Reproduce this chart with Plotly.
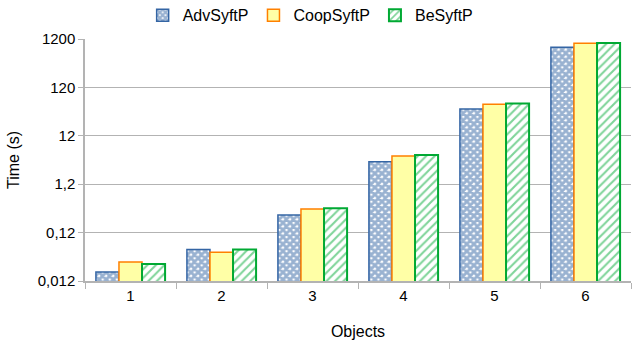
import plotly.graph_objects as go

categories = ["1", "2", "3", "4", "5", "6"]
adv = [0.0184, 0.054, 0.277, 3.5, 43, 807]
coop = [0.0297, 0.047, 0.369, 4.6, 54, 979]
be = [0.027, 0.054, 0.38, 4.8, 56, 990]
tick_vals = [0.012, 0.12, 1.2, 12, 120, 1200]
tick_text = ["0,012", "0,12", "1,2", "12", "120", "1200"]

fig = go.Figure()
fig.add_trace(go.Bar(
    name="AdvSyftP", x=categories, y=adv,
    marker=dict(color="white", line=dict(color="#3465a4", width=1.5),
                pattern=dict(shape="x", fgcolor="#3465a4", bgcolor="white", size=5, solidity=0.8))))
fig.add_trace(go.Bar(
    name="CoopSyftP", x=categories, y=coop,
    marker=dict(color="#ffffa6", line=dict(color="#ff8000", width=1.5))))
fig.add_trace(go.Bar(
    name="BeSyftP", x=categories, y=be,
    marker=dict(color="white", line=dict(color="#00a933", width=2),
                pattern=dict(shape="/", fgcolor="#00a933", bgcolor="white", size=6, solidity=0.35))))

fig.update_layout(
    width=634, height=340,
    margin=dict(l=85, r=3, t=39, b=59, autoexpand=False),
    paper_bgcolor="white", plot_bgcolor="white",
    font=dict(family="Liberation Sans, Arial, sans-serif", size=15, color="#000"),
    barmode="group", bargap=0.24, bargroupgap=0,
    legend=dict(orientation="h", x=0.49, xanchor="center", xref="container",
                y=0.955, yanchor="middle", yref="container",
                font=dict(size=16), itemwidth=30, tracegroupgap=0),
    showlegend=True,
)
fig.update_xaxes(
    automargin=True,
    title=dict(text="Objects", font=dict(size=16), standoff=24),
    showline=True, linecolor="#b3b3b3", linewidth=1.5,
    ticks="outside", tickson="boundaries", ticklen=6, tickcolor="#b3b3b3",
    showgrid=False,
)
fig.update_yaxes(
    automargin=True,
    type="log", range=[-1.9208, 3.0792],
    tickvals=tick_vals, ticktext=tick_text,
    title=dict(text="Time (s)", font=dict(size=16), standoff=14),
    showline=True, linecolor="#b3b3b3", linewidth=1.5,
    ticks="outside", ticklen=5, tickcolor="#b3b3b3",
    showgrid=True, gridcolor="#b3b3b3", gridwidth=1,
    zeroline=False,
)

fig.write_html("out.html", config={"displayModeBar": False},
               post_script="document.body.style.margin='0';")
